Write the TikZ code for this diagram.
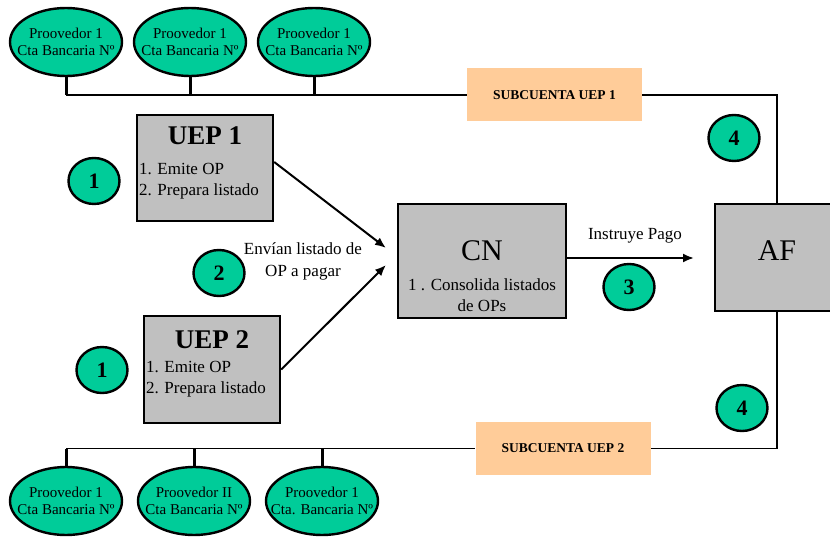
\documentclass[tikz,border=0pt]{standalone}
\usepackage{fontspec}
\setmainfont{Liberation Serif}
\usetikzlibrary{positioning,shapes.geometric,arrows.meta}
\definecolor{tagteal}{RGB}{0,204,153}
\definecolor{unitgray}{RGB}{192,192,192}
\definecolor{accpeach}{RGB}{255,204,153}

\begin{document}
\begin{tikzpicture}[x=1pt, y=-1pt,
	unit/.style={rectangle, draw=black, line width=2.4pt, fill=unitgray},
	title/.style={inner sep=0pt, font=\fontsize{27}{30}\selectfont\bfseries},
	bigtitle/.style={inner sep=0pt, font=\fontsize{30}{32}\selectfont},
	steps/.style={inner sep=0pt, align=left, font=\fontsize{17}{21}\selectfont},
	tag/.style={ellipse, draw=black, line width=2.4pt, fill=tagteal, minimum width=51pt, minimum height=46pt, inner sep=0pt, font=\fontsize{22}{24}\selectfont\bfseries},
	supplier/.style={ellipse, draw=black, line width=2.4pt, fill=tagteal, minimum width=112pt, minimum height=68pt, inner xsep=-12pt, inner ysep=0pt, align=center, font=\fontsize{15}{17}\selectfont},
	account/.style={rectangle, fill=accpeach, minimum width=175pt, minimum height=53pt, font=\fontsize{13.5}{15}\selectfont\bfseries},
	link/.style={line width=1.5pt},
	stem/.style={line width=3pt},
	flow/.style={-{Latex[length=11pt,width=9pt]}, line width=2pt}
	]
	\useasboundingbox (0,0) rectangle (830,548);

		% proveedores y subcuentas
		\node (sup1) [supplier] at (66,42) {Proovedor 1\\Cta Bancaria Nº};
		\node (sup2) [supplier] at (190,42) {Proovedor 1\\Cta Bancaria Nº};
		\node (sup3) [supplier] at (314,42) {Proovedor 1\\Cta Bancaria Nº};
		\node (acc1) [account] at (554.5,95) {SUBCUENTA UEP 1};

		\node (sup4) [supplier] at (66,501) {Proovedor 1\\Cta Bancaria Nº};
		\node (sup5) [supplier] at (194,501) {Proovedor II\\Cta Bancaria Nº};
		\node (sup6) [supplier] at (322,501) {Proovedor 1\\Cta. Bancaria Nº};
		\node (acc2) [account] at (563,448.5) {SUBCUENTA UEP 2};

		% unidades
		\node (uep1) [unit, minimum width=136pt, minimum height=106pt] at (205,168) {};
				\node (uep1title) [title, below=13pt of uep1.north] {UEP 1};
				\node (uep1steps) [steps, below right=49pt and 3pt of uep1.north west] {1. Emite OP\\2. Prepara listado};
		\node (uep2) [unit, minimum width=136pt, minimum height=107pt] at (212,369.5) {};
				\node (uep2title) [title, below=16pt of uep2.north] {UEP 2};
				\node (uep2steps) [steps, below right=46pt and 3pt of uep2.north west] {1. Emite OP\\2. Prepara listado};
		\node (cn) [unit, minimum width=168pt, minimum height=114pt] at (482,261) {};
				\node (cntitle) [bigtitle, below=38pt of cn.north] {CN};
				\node (cnsteps) [steps, align=center, below=76pt of cn.north] {1 . Consolida listados\\de OPs};
		\node (af) [unit, minimum width=124pt, minimum height=107pt] at (777,257.5) {};
				\node (aftitle) [bigtitle, below=38pt of af.north] {AF};

		% pasos
		\node (step1a) [tag] at (94,181) {1};
		\node (step1b) [tag] at (102,370) {1};
		\node (step2) [tag] at (219,273) {2};
		\node (step3) [tag] at (629,287) {3};
		\node (step4a) [tag] at (734,138) {4};
		\node (step4b) [tag] at (742,408) {4};

		\node (envian) [steps, align=center, font=\fontsize{17}{22}\selectfont] at (303,261) {Envían listado de\\OP a pagar};
		\node (instruye) [steps] at (635,236) {Instruye Pago};

		\coordinate (cnin1) at (386,248);
		\coordinate (cnin2) at (386,265);
		\coordinate (afin) at (694,258);

	\foreach \s in {sup1,sup2,sup3}
		\draw [stem] (\s.south) -- (\s.south |- acc1.west);
	\foreach \s in {sup4,sup5,sup6}
		\draw [stem] (\s.north) -- (\s.north |- acc2.west);
	\draw [link] (sup1.south |- acc1.west) -- (acc1.west);
	\draw [link] (acc1.east) -| (af.north);
	\draw [link] (sup4.north |- acc2.west) -- (acc2.west);
	\draw [link] (af.south) |- (acc2.east);

	\draw [flow] ([yshift=6pt]uep1.east) -- (cnin1);
	\draw [flow] (uep2.east) -- (cnin2);
	\draw [flow] ([yshift=3pt]cn.east) -- (afin);

	\end{tikzpicture}
\end{document}
